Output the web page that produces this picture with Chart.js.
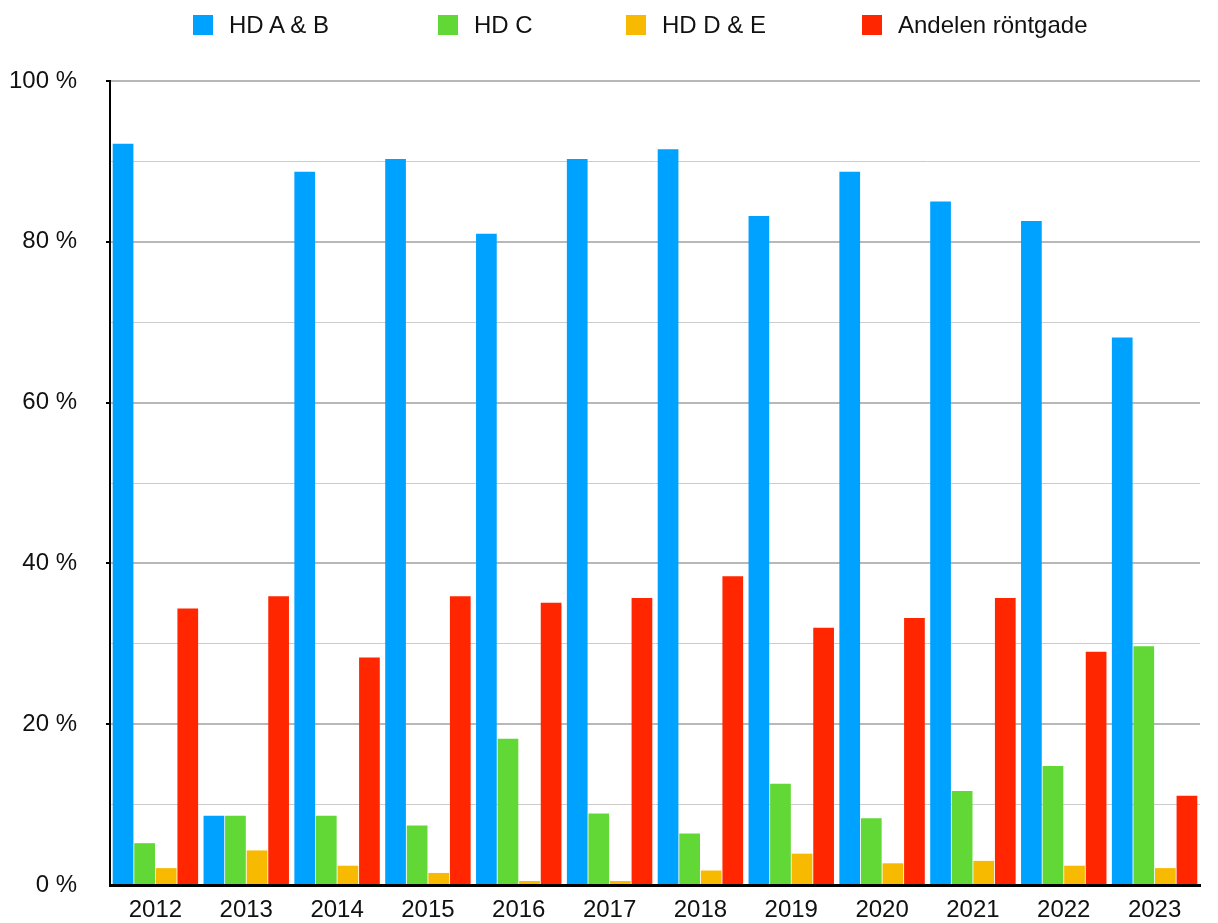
<!DOCTYPE html>
<html lang="sv">
<head>
    <meta charset="UTF-8">
    <title>HD-grader</title>
    <script src="https://cdn.jsdelivr.net/npm/chart.js"></script>
    <style>
        html, body { margin: 0; padding: 0; background: #fff; overflow: hidden; }
        .wrap { position: relative; width: 1218px; height: 923px; }
        #grafico { position: absolute; top: 0; left: 0; }
        .legenda { position: absolute; top: 0; left: 0; width: 1218px; height: 46px; font-family: "Liberation Sans", Arial, sans-serif; font-size: 24px; color: #111; z-index: 2; }
        .item { position: absolute; top: 11px; display: flex; align-items: center; white-space: nowrap; }
        .caixa { width: 20px; height: 20px; margin-right: 16px; }
    </style>
</head>
<body>
    <div class="wrap">
        <canvas id="grafico" width="1218" height="923"></canvas>
        <div class="legenda" id="legenda"></div>
    </div>
<script>
    // data
    const years = ['2012', '2013', '2014', '2015', '2016', '2017', '2018', '2019', '2020', '2021', '2022', '2023'];
    const hdAB = [92.2, 8.6, 88.7, 90.3, 81.0, 90.3, 91.5, 83.2, 88.7, 85.0, 82.6, 68.1];
    const hdC = [5.2, 8.6, 8.6, 7.4, 18.2, 8.9, 6.4, 12.6, 8.3, 11.7, 14.8, 29.7];
    const hdDE = [2.1, 4.3, 2.4, 1.5, 0.5, 0.5, 1.8, 3.9, 2.7, 3.0, 2.4, 2.1];
    const rontgade = [34.4, 35.9, 28.3, 35.9, 35.1, 35.7, 38.4, 32.0, 33.2, 35.7, 29.0, 11.1];
    const seriesNames = ['HD A & B', 'HD C', 'HD D & E', 'Andelen röntgade'];
    const yTicks = [0, 20, 40, 60, 80, 100];

    const cores = ['#00a2ff', '#61d836', '#f8ba00', '#ff2600'];
    const valores = [hdAB, hdC, hdDE, rontgade];
    const legendaX = [193, 438, 626, 862];

    let datasets = [];
    for (let i = 0; i < seriesNames.length; i++) {
        datasets.push({
            label: seriesNames[i],
            data: valores[i],
            backgroundColor: cores[i],
            borderWidth: 0,
            categoryPercentage: 0.95,
            barPercentage: 0.96
        });
    }

    // legenda em html
    let leg = document.getElementById('legenda');
    for (let i = 0; i < seriesNames.length; i++) {
        let it = document.createElement('div');
        it.className = 'item';
        it.style.left = legendaX[i] + 'px';
        it.innerHTML = '<span class="caixa" style="background:' + cores[i] + '"></span><span></span>';
        it.lastChild.textContent = seriesNames[i];
        leg.appendChild(it);
    }

    Chart.defaults.font.family = '"Liberation Sans", Arial, sans-serif';
    Chart.defaults.color = '#111';

    let ctx = document.getElementById('grafico');
    new Chart(ctx, {
        type: 'bar',
        data: { labels: years, datasets: datasets },
        options: {
            responsive: false,
            animation: false,
            devicePixelRatio: 1,
            layout: { padding: { top: 81, right: 18, bottom: 0, left: 8 } },
            plugins: {
                tooltip: { enabled: false },
                legend: { display: false }
            },
            scales: {
                x: {
                    grid: { display: false, drawTicks: false, tickLength: 0 },
                    border: { display: true, color: '#000', width: 3 },
                    ticks: { font: { size: 24 }, color: '#111', padding: 11 },
                    afterFit: axis => { axis.height = 38; }
                },
                y: {
                    min: 0,
                    max: 100,
                    afterBuildTicks: axis => {
                        let t = [];
                        for (let v = 0; v <= 100; v += 10) t.push({ value: v });
                        axis.ticks = t;
                    },
                    afterFit: axis => {
                        axis.width = 102;
                        axis.paddingTop = 0;
                        axis.paddingBottom = 0;
                    },
                    grid: {
                        color: c => (c.tick && c.tick.value % 20 === 0) ? '#b8b8b8' : '#cccccc',
                        lineWidth: c => (c.tick && c.tick.value % 20 === 0) ? 2 : 1,
                        tickColor: c => (c.tick && c.tick.value % 20 === 0 && c.tick.value > 0) ? '#000' : 'rgba(0,0,0,0)',
                        tickWidth: 2,
                        tickLength: 4
                    },
                    border: { display: true, color: '#000', width: 2 },
                    ticks: {
                        font: { size: 24 },
                        color: '#111',
                        padding: 29,
                        callback: v => yTicks.includes(v) ? v + ' %' : ''
                    }
                }
            }
        }
    });
</script>
</body>
</html>
